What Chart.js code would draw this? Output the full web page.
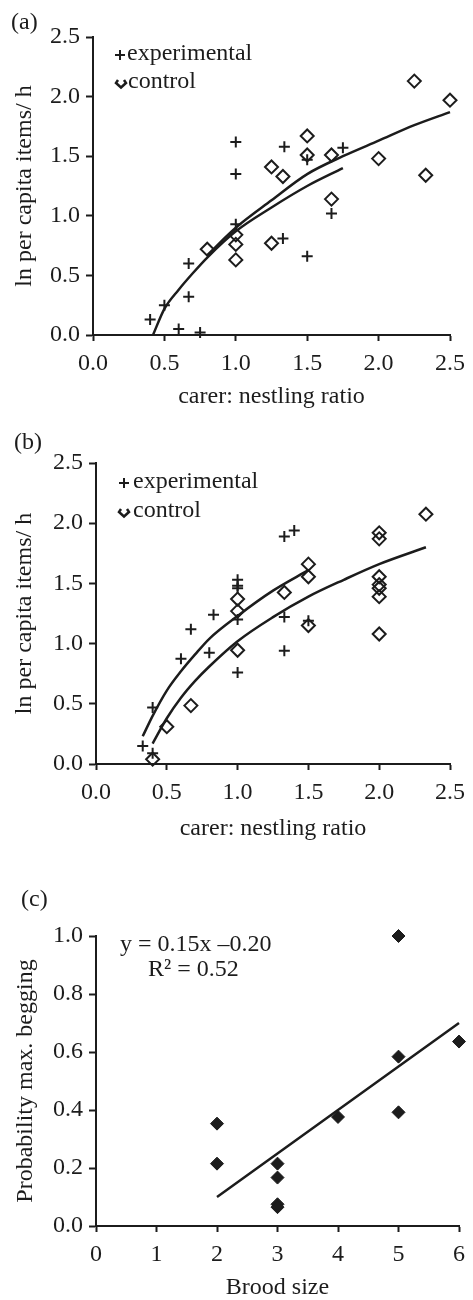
<!DOCTYPE html>
<html>
<head>
<meta charset="utf-8">
<script src="https://cdn.jsdelivr.net/npm/chart.js@4.4.0/dist/chart.umd.min.js"></script>
<style>
  body { margin: 0; background: #fff; }
  .panel { position: absolute; left: 0; width: 473px; }
  canvas { display: block; }
</style>
</head>
<body>
<div class="panel" style="top:0"><canvas id="chartA" width="473" height="415"></canvas></div>
<div class="panel" style="top:415px"><canvas id="chartB" width="473" height="430"></canvas></div>
<div class="panel" style="top:845px"><canvas id="chartC" width="473" height="455"></canvas></div>
<script>
// (a) carer:nestling ratio vs ln per capita items/h
const aExpX = [1.0, 1.0, 1.34, 1.5, 1.75, 1.67, 1.0, 1.33, 1.5, 0.67, 0.67, 0.5, 0.4, 0.6, 0.75];
const aExpY = [1.62, 1.35, 1.58, 1.47, 1.57, 1.02, 0.93, 0.81, 0.66, 0.60, 0.32, 0.25, 0.13, 0.05, 0.02];
const aCtrlX = [2.25, 2.5, 1.5, 1.5, 1.25, 1.33, 1.67, 2.0, 2.33, 1.67, 0.8, 1.0, 1.0, 1.0, 1.25];
const aCtrlY = [2.13, 1.97, 1.67, 1.51, 1.41, 1.33, 1.51, 1.48, 1.34, 1.14, 0.72, 0.84, 0.76, 0.63, 0.77];
// fitted curves
const aExpFitX = [0.42, 0.5, 0.6, 0.7, 0.8, 1.0, 1.25, 1.5, 1.75];
const aExpFitY = [0.0, 0.22, 0.38, 0.52, 0.65, 0.87, 1.07, 1.25, 1.40];
const aCtrlFitX = [0.8, 1.0, 1.25, 1.5, 1.75, 2.0, 2.25, 2.5];
const aCtrlFitY = [0.67, 0.90, 1.13, 1.35, 1.50, 1.63, 1.76, 1.87];

// (b)
const bExpX = [1.33, 1.4, 1.0, 1.0, 1.0, 0.83, 1.0, 1.33, 1.5, 0.67, 0.6, 0.8, 1.33, 1.0, 0.4, 0.33, 0.4];
const bExpY = [1.89, 1.94, 1.53, 1.48, 1.46, 1.24, 1.20, 1.22, 1.19, 1.12, 0.875, 0.925, 0.94, 0.76, 0.47, 0.15, 0.09];
const bCtrlX = [2.33, 2.0, 2.0, 2.0, 2.0, 2.0, 2.0, 2.0, 1.5, 1.5, 1.5, 1.33, 1.0, 1.0, 1.0, 0.67, 0.5, 0.4];
const bCtrlY = [2.075, 1.92, 1.87, 1.555, 1.49, 1.46, 1.39, 1.08, 1.66, 1.555, 1.15, 1.425, 1.37, 1.27, 0.945, 0.485, 0.31, 0.04];
const bExpFitX = [0.33, 0.4, 0.5, 0.6, 0.7, 0.8, 1.0, 1.25, 1.5];
const bExpFitY = [0.23, 0.40, 0.61, 0.77, 0.91, 1.04, 1.23, 1.44, 1.61];
const bCtrlFitX = [0.4, 0.5, 0.6, 0.7, 0.8, 1.0, 1.25, 1.5, 1.75, 2.0, 2.33];
const bCtrlFitY = [0.17, 0.38, 0.55, 0.69, 0.81, 1.02, 1.22, 1.39, 1.53, 1.66, 1.80];

// (c) brood size vs probability of max. begging
const cX = [5, 6, 5, 5, 4, 2, 2, 3, 3, 3, 3];
const cY = [1.0, 0.636, 0.584, 0.392, 0.376, 0.353, 0.215, 0.215, 0.167, 0.075, 0.065];
const cFitX = [2, 6];
const cFitY = [0.10, 0.70];

const INK = '#1c1c1c';
const FONT = "'Liberation Serif', 'Times New Roman', serif";
const FSIZE = 24;

function toPoints(xs, ys) {
    return xs.map((x, i) => ({ x: x, y: ys[i] }));
}

function makeScale(o) {
    return {
        type: 'linear',
        min: o.min,
        max: o.max,
        ticks: {
            stepSize: o.step,
            padding: o.tickPad,
            color: INK,
            autoSkip: false,
            maxRotation: 0,
            font: { family: FONT, size: FSIZE },
            callback: v => v.toFixed(o.decimals)
        },
        grid: { drawOnChartArea: false, drawTicks: true, tickLength: o.tickLen, tickWidth: 2, tickColor: INK, color: INK },
        border: { display: true, color: INK, width: 2 },
        title: {
            display: true,
            text: o.title,
            color: INK,
            font: { family: FONT, size: FSIZE, lineHeight: 1 },
            padding: o.titlePad
        },
        afterFit: s => {
            if (s.isHorizontal()) s.height = o.size; else s.width = o.size;
        }
    };
}

function crossSet(xs, ys) {
    return {
        data: toPoints(xs, ys), pointStyle: 'cross', pointRadius: 5.5, pointHoverRadius: 5.5,
        borderColor: INK, pointBorderWidth: 2, showLine: false, clip: false
    };
}
function diamondSet(xs, ys, filled) {
    return {
        data: toPoints(xs, ys), pointStyle: 'rectRot', pointRadius: 6.5, pointHoverRadius: 6.5,
        borderColor: INK, backgroundColor: filled ? INK : 'rgba(0,0,0,0)', pointBorderWidth: filled ? 1 : 2,
        showLine: false, clip: false
    };
}
function fitSet(xs, ys) {
    return {
        data: toPoints(xs, ys), showLine: true, pointRadius: 0, pointHoverRadius: 0,
        borderColor: INK, borderWidth: 2.5, cubicInterpolationMode: 'monotone', fill: false, clip: false
    };
}

// texts and legend glyphs drawn on top of the plot
function annotations(items) {
    return {
        id: 'annotations',
        afterDraw(chart) {
            const ctx = chart.ctx;
            ctx.save();
            ctx.fillStyle = INK;
            ctx.strokeStyle = INK;
            ctx.lineWidth = 2;
            ctx.font = FSIZE + 'px ' + FONT;
            ctx.textBaseline = 'middle';
            ctx.textAlign = 'left';
            items.forEach(it => {
                if (it.kind === 'text') {
                    ctx.fillText(it.text, it.x, it.y);
                } else if (it.kind === 'cross') {
                    ctx.beginPath();
                    ctx.moveTo(it.x - 5, it.y); ctx.lineTo(it.x + 5, it.y);
                    ctx.moveTo(it.x, it.y - 5); ctx.lineTo(it.x, it.y + 5);
                    ctx.stroke();
                } else if (it.kind === 'hook') {
                    ctx.lineWidth = 2.5;
                    ctx.beginPath();
                    ctx.moveTo(it.x - 3, it.y - 3);
                    ctx.lineTo(it.x - 5, it.y);
                    ctx.lineTo(it.x, it.y + 4.5);
                    ctx.lineTo(it.x + 5, it.y);
                    ctx.lineTo(it.x + 3, it.y - 3);
                    ctx.stroke();
                    ctx.lineWidth = 2;
                }
            });
            ctx.restore();
        }
    };
}

function baseOptions(xScale, yScale, pad) {
    return {
        responsive: false,
        animation: false,
        layout: { padding: pad },
        plugins: { legend: { display: false }, tooltip: { enabled: false } },
        scales: { x: xScale, y: yScale }
    };
}

// (a)
new Chart(document.getElementById('chartA').getContext('2d'), {
    type: 'scatter',
    data: {
        datasets: [
            fitSet(aExpFitX, aExpFitY),
            fitSet(aCtrlFitX, aCtrlFitY),
            crossSet(aExpX, aExpY),
            diamondSet(aCtrlX, aCtrlY, false)
        ]
    },
    options: baseOptions(
        makeScale({ min: 0, max: 2.5, step: 0.5, decimals: 1, tickPad: 8, tickLen: 6, size: 80,
            title: 'carer: nestling ratio', titlePad: { top: 0, bottom: 6 } }),
        makeScale({ min: 0, max: 2.5, step: 0.5, decimals: 1, tickPad: 6, tickLen: 7, size: 93,
            title: 'ln per capita items/ h', titlePad: { top: 13, bottom: 0 } }),
        { top: 37, right: 16, left: 0, bottom: 0 }
    ),
    plugins: [annotations([
        { kind: 'text', text: '(a)', x: 11, y: 23 },
        { kind: 'cross', x: 120, y: 55 },
        { kind: 'text', text: 'experimental', x: 127, y: 54 },
        { kind: 'hook', x: 121, y: 83 },
        { kind: 'text', text: 'control', x: 128, y: 82 }
    ])]
});

// (b)
new Chart(document.getElementById('chartB').getContext('2d'), {
    type: 'scatter',
    data: {
        datasets: [
            fitSet(bExpFitX, bExpFitY),
            fitSet(bCtrlFitX, bCtrlFitY),
            crossSet(bExpX, bExpY),
            diamondSet(bCtrlX, bCtrlY, false)
        ]
    },
    options: baseOptions(
        makeScale({ min: 0, max: 2.5, step: 0.5, decimals: 1, tickPad: 8, tickLen: 6, size: 81,
            title: 'carer: nestling ratio', titlePad: { top: 0, bottom: 4 } }),
        makeScale({ min: 0, max: 2.5, step: 0.5, decimals: 1, tickPad: 6, tickLen: 7, size: 96,
            title: 'ln per capita items/ h', titlePad: { top: 13, bottom: 0 } }),
        { top: 48, right: 14, left: 0, bottom: 0 }
    ),
    plugins: [annotations([
        { kind: 'text', text: '(b)', x: 14, y: 28 },
        { kind: 'cross', x: 124, y: 68 },
        { kind: 'text', text: 'experimental', x: 133, y: 67 },
        { kind: 'hook', x: 124, y: 97 },
        { kind: 'text', text: 'control', x: 133, y: 96 }
    ])]
});

// (c)
new Chart(document.getElementById('chartC').getContext('2d'), {
    type: 'scatter',
    data: {
        datasets: [
            fitSet(cFitX, cFitY),
            diamondSet(cX, cY, true)
        ]
    },
    options: baseOptions(
        makeScale({ min: 0, max: 6, step: 1, decimals: 0, tickPad: 8, tickLen: 6, size: 74,
            title: 'Brood size', titlePad: { top: 0, bottom: 0 } }),
        makeScale({ min: 0, max: 1.0, step: 0.2, decimals: 1, tickPad: 6, tickLen: 7, size: 96,
            title: 'Probability max. begging', titlePad: { top: 14, bottom: 0 } }),
        { top: 91, right: 8, left: 0, bottom: 0 }
    ),
    plugins: [annotations([
        { kind: 'text', text: '(c)', x: 21, y: 55 },
        { kind: 'text', text: 'y = 0.15x \u20130.20', x: 120, y: 100 },
        { kind: 'text', text: 'R\u00b2 = 0.52', x: 148, y: 125 }
    ])]
});
</script>
</body>
</html>
